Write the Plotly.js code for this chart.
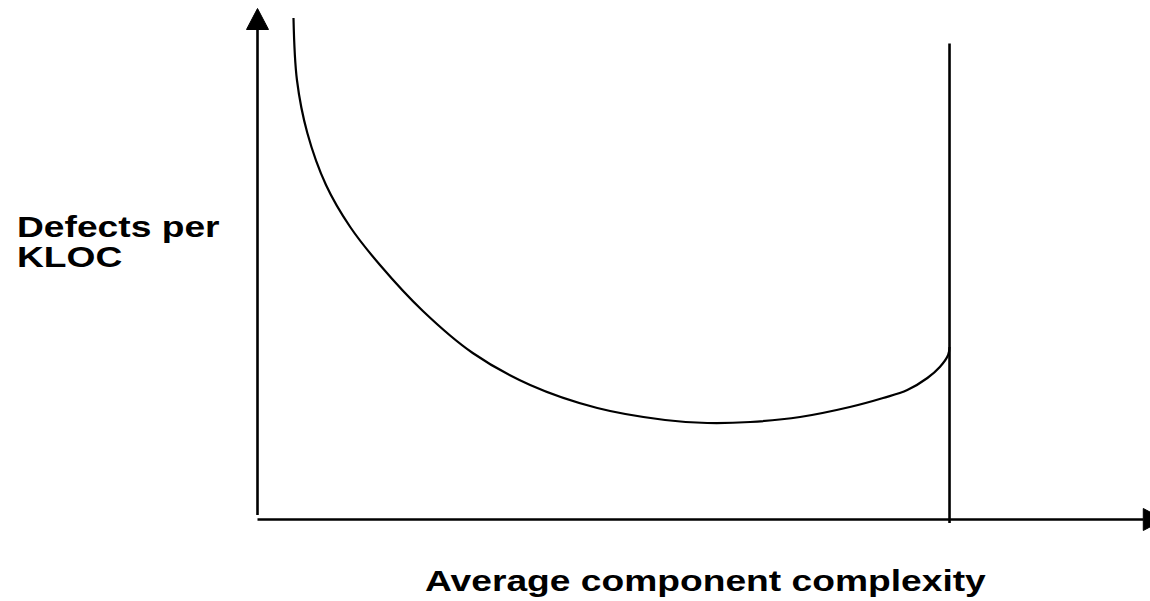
<!DOCTYPE html>
<html>
<head>
<meta charset="utf-8">
<script src="https://cdn.plot.ly/plotly-3.0.1.min.js"></script>
<style>
  html, body { margin: 0; padding: 0; background: #fff; }
  #chart { width: 1150px; height: 601px; }
</style>
</head>
<body>
<div id="chart"></div>
<script>
// curve: complexity (vertical line = 10) vs defects per KLOC
var complexity = [0.52, 0.57, 0.72, 0.99, 1.34, 1.77, 2.39, 3.11, 3.94, 4.91, 5.89,
                  6.50, 7.12, 7.84, 8.56, 9.04, 9.39, 9.68, 9.86, 9.98, 10.0];
var defects = [10.03, 8.79, 7.73, 6.69, 5.85, 5.09, 4.17, 3.33, 2.69, 2.23, 1.99,
               1.93, 1.95, 2.05, 2.25, 2.43, 2.59, 2.83, 3.05, 3.29, 3.45];

var limitX = [10, 10];          // vertical limit line
var limitY = [9.52, -0.07];

var yAxisX = [0, 0];
var yAxisY = [0.09, 9.80];
var xAxisX = [0, 12.80];
var xAxisY = [0, 0];

var xTitle = 'Average component complexity';
var yTitle = 'Defects per<br>KLOC';

// arrow heads (tip + half width)
function arrowHead(tipX, tipY, baseX, baseY, halfW, vertical) {
    if (vertical) {
        return {x: [baseX - halfW, tipX, baseX + halfW, baseX - halfW],
                y: [baseY, tipY, baseY, baseY]};
    }
    return {x: [baseX, tipX, baseX, baseX],
            y: [baseY - halfW, tipY, baseY + halfW, baseY - halfW]};
}

var upHead = arrowHead(0, 10.22, 0, 9.80, 0.159, true);
var rightHead = arrowHead(13.10, 0, 12.80, 0, 0.22, false);

function lineTrace(x, y, w) {
    return {x: x, y: y, type: 'scatter', mode: 'lines', hoverinfo: 'skip',
            line: {color: 'black', width: w}};
}
function headTrace(h) {
    return {x: h.x, y: h.y, type: 'scatter', mode: 'lines', fill: 'toself',
            fillcolor: 'black', line: {color: 'black', width: 1}, hoverinfo: 'skip'};
}

var traces = [
    lineTrace(yAxisX, yAxisY, 2.6),
    lineTrace(xAxisX, xAxisY, 2.6),
    lineTrace(limitX, limitY, 2.6),
    lineTrace(complexity, defects, 2.2),
    headTrace(upHead),
    headTrace(rightHead)
];
traces[3].line.shape = 'spline';
traces[3].line.smoothing = 1;

var labelFont = {family: 'Liberation Sans, Arial, sans-serif', size: 30, color: 'black', weight: 'bold'};
var textStretch = 1.24;

var layout = {
    width: 1150,
    height: 601,
    margin: {l: 0, r: 0, t: 0, b: 0},
    paper_bgcolor: 'white',
    plot_bgcolor: 'white',
    showlegend: false,
    xaxis: {range: [-3.721, 12.897], visible: false, fixedrange: true},
    yaxis: {range: [-1.63, 10.39], visible: false, fixedrange: true},
    annotations: [
        {text: yTitle, xref: 'paper', yref: 'paper', x: 0.01304, y: 0.5915,
         xanchor: 'left', yanchor: 'middle', align: 'left', showarrow: false, font: labelFont},
        {text: xTitle, xref: 'paper', yref: 'paper', x: 0.3678, y: 0.0333,
         xanchor: 'left', yanchor: 'middle', showarrow: false, font: labelFont}
    ]
};

Plotly.newPlot('chart', traces, layout, {staticPlot: true}).then(function (gd) {
    // the source text is drawn wider than the font and with tight lines
    gd.querySelectorAll('.annotation-text').forEach(function (t) {
        t.querySelectorAll('tspan.line').forEach(function (ln, i) {
            ln.setAttribute('dy', i + 'em');
        });
        var b = t.getBBox();
        t.setAttribute('transform', 'translate(' + b.x + ',0) scale(' + textStretch + ',1) translate(' + (-b.x) + ',0)');
    });
});
</script>
</body>
</html>
